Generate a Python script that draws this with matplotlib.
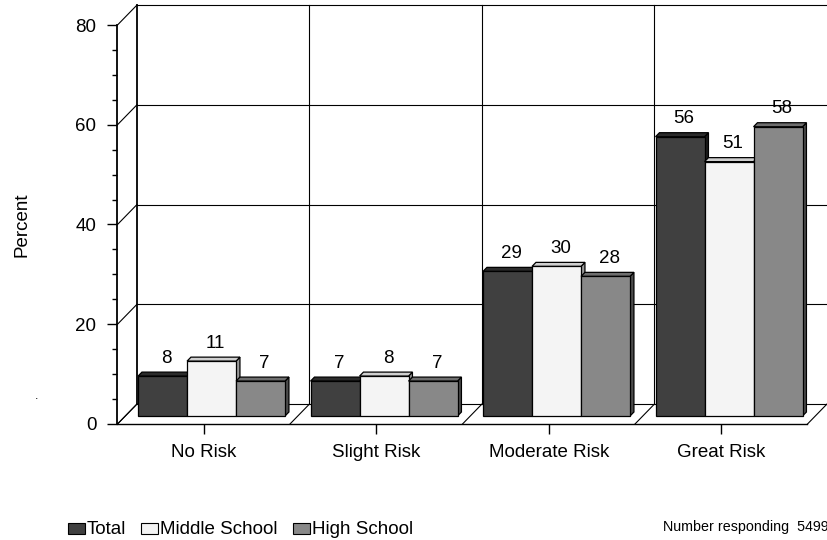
import matplotlib
matplotlib.use("Agg")
import matplotlib.pyplot as plt
from matplotlib.patches import Polygon, Rectangle
from matplotlib.ticker import MultipleLocator

plt.rcParams['font.family'] = ['Liberation Sans', 'DejaVu Sans']

# ---- data ----
categories = ["No Risk", "Slight Risk", "Moderate Risk", "Great Risk"]
series_names = ["Total", "Middle School", "High School"]
total = [8, 7, 29, 56]
middle_school = [11, 8, 30, 51]
high_school = [7, 7, 28, 58]
y_ticks = [0, 20, 40, 60, 80]
respondents = 5499

series = [total, middle_school, high_school]
# front / top / side shades for each series
face_colors = [("#404040", "#2b2b2b", "#1c1c1c"),
               ("#f4f4f4", "#cfcfcf", "#9a9a9a"),
               ("#888888", "#6e6e6e", "#4c4c4c")]

W, H = 828, 540
fig = plt.figure(figsize=(W / 100, H / 100), dpi=100)


def fig_xy(x, y):
    """pixel position measured from the top-left corner -> figure fraction"""
    return x / W, 1 - y / H


# front plane of the 3-D box (pixels from the top-left corner)
left_px, right_px, top_px, bottom_px = 117.5, 807.5, 25, 424
ax = fig.add_axes([left_px / W, 1 - bottom_px / H,
                   (right_px - left_px) / W, (bottom_px - top_px) / H])
n = len(categories)
ymax = y_ticks[-1]
ax.set_xlim(0, n)
ax.set_ylim(0, ymax)

# depth of the box expressed in data units
DX = 19.5 / ((right_px - left_px) / n)
DY = 20.0 / ((bottom_px - top_px) / ymax)

line_kw = dict(color="black", lw=0.8, clip_on=False, zorder=1)

# back wall: gridlines and category separators
for yv in y_ticks:
    ax.plot([DX, n + DX], [yv + DY, yv + DY], **line_kw)
    # left wall diagonals
    ax.plot([0, DX], [yv, yv + DY], **line_kw)
ax.plot([DX, DX], [DY, ymax + DY], color="black", lw=1.3, clip_on=False, zorder=1)
for k in range(1, n):
    ax.plot([k + DX, k + DX], [DY, ymax + DY], **line_kw)
# floor diagonals
for k in range(0, n + 1):
    ax.plot([k, k + DX], [0, DY], **line_kw)

# ---- 3-D bars ----
gap = 0.074
bw = (1 - 2 * gap) / len(series)
f0, f1 = 0.4, 0.6          # bar depth slice inside the box
ddx, ddy = (f1 - f0) * DX, (f1 - f0) * DY
z = 2
for i in range(n):
    for j, vals in enumerate(series):
        v = vals[i]
        front_c, top_c, side_c = face_colors[j]
        x0 = i + gap + j * bw + f0 * DX
        x1 = x0 + bw
        y0 = f0 * DY
        y1 = v + f0 * DY
        kw = dict(ec="black", lw=0.9, clip_on=False, joinstyle="miter")
        ax.add_patch(Polygon([(x1, y0), (x1 + ddx, y0 + ddy), (x1 + ddx, y1 + ddy), (x1, y1)],
                             fc=side_c, zorder=z, **kw))
        ax.add_patch(Polygon([(x0, y1), (x1, y1), (x1 + ddx, y1 + ddy), (x0 + ddx, y1 + ddy)],
                             fc=top_c, zorder=z, **kw))
        ax.add_patch(Rectangle((x0, y0), bw, v, fc=front_c, zorder=z + 0.5, **kw))
        ax.annotate(str(v), xy=(x0 + bw / 2 + ddx, y1 + ddy), xytext=(0, 6.8),
                    textcoords="offset points", ha="center", va="baseline",
                    fontsize=13.5, zorder=50, annotation_clip=False)
        z += 1

# ---- axes ----
for side in ("top", "right"):
    ax.spines[side].set_visible(False)
ax.spines["left"].set_linewidth(1.3)
ax.spines["bottom"].set_linewidth(1.0)
ax.set_yticks(y_ticks)
ax.yaxis.set_minor_locator(MultipleLocator(5))
ax.tick_params(axis="y", which="major", length=7.2, width=1.0, pad=8, labelsize=13.5)
ax.tick_params(axis="y", which="minor", length=3.6, width=1.0)
ax.set_xticks([i + 0.5 for i in range(n)])
ax.set_xticklabels(categories)
ax.tick_params(axis="x", length=7.2, width=1.0, pad=7, labelsize=13.5)
ax.patch.set_visible(False)

fig.text(*fig_xy(22.5, 224.5), "Percent", rotation=90, ha="center", va="center",
         fontsize=13.5)
fig.text(*fig_xy(37, 399), ".", ha="center", va="baseline", fontsize=9)

# ---- legend ----
legend_x = [68, 141, 293]
for j, name in enumerate(series_names):
    bx, by = fig_xy(legend_x[j], 534)
    fig.patches.append(Rectangle((bx, by), 17 / W, 11 / H, transform=fig.transFigure,
                                 fc=face_colors[j][0], ec="black", lw=0.8))
    tx, ty = fig_xy(legend_x[j] + 19, 534)
    fig.text(tx, ty, name, ha="left", va="baseline", fontsize=13.5)

fig.text(*fig_xy(663, 531), f"Number responding  {respondents}", ha="left",
         va="baseline", fontsize=10.3)

fig.savefig("out.png", dpi=100)
